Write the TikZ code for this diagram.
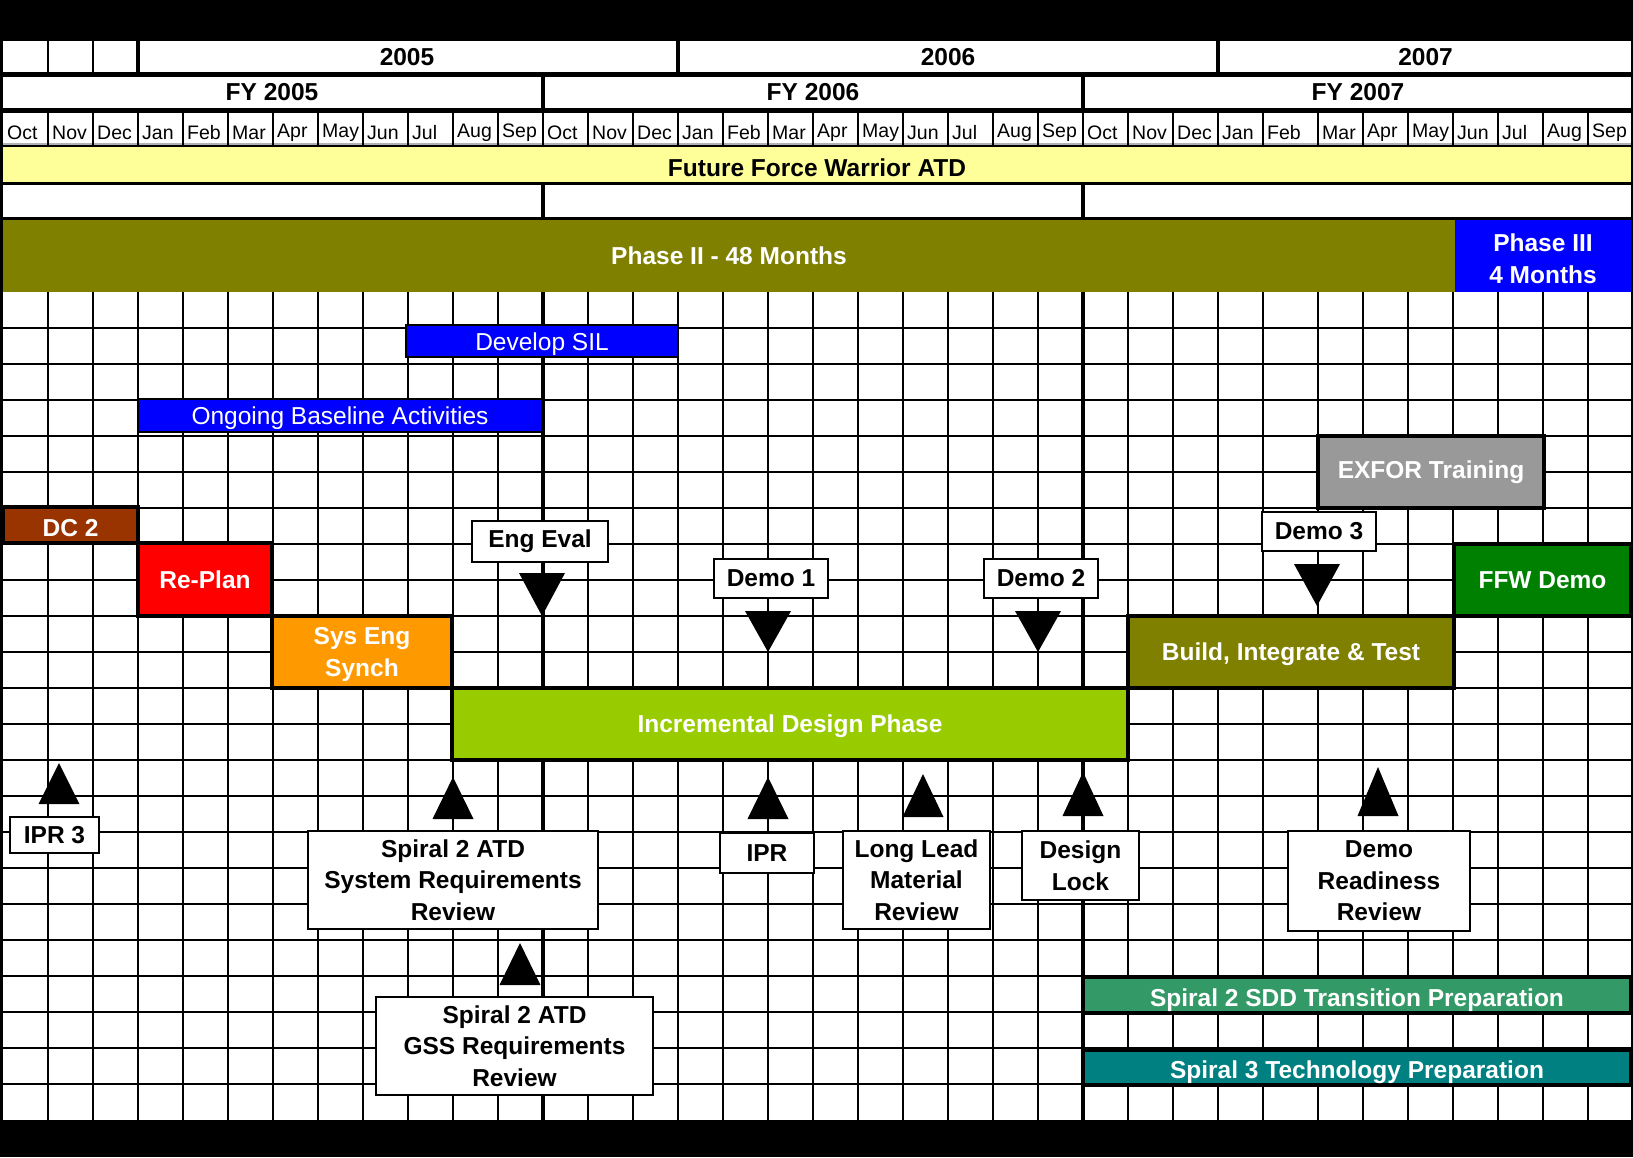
\documentclass[tikz,border=0pt]{standalone}
\usepackage{fontspec}
\setmainfont{Liberation Sans}
\usepackage{xcolor}

\definecolor{lightyellow}{HTML}{FFFF99}
\definecolor{phaseolive}{HTML}{808000}
\definecolor{dcbrown}{HTML}{993300}
\definecolor{synchorange}{HTML}{FF9900}
\definecolor{designgreen}{HTML}{99CC00}
\definecolor{ffwgreen}{HTML}{008000}
\definecolor{exforgray}{HTML}{999999}
\definecolor{sddgreen}{HTML}{339966}
\definecolor{spiralteal}{HTML}{008080}

\newcommand{\downmark}[3]{\fill ({#1-23},#2) -- ({#1+23},#2) -- (#1,#3) -- cycle;}
\newcommand{\upmark}[3]{\fill ({#1-20.5},#3) -- ({#1+20.5},#3) -- (#1,#2) -- cycle;}

\begin{document}
\begin{tikzpicture}[x=1pt,y=-1pt,
  big/.style={font=\fontsize{24.5}{31.5}\selectfont\bfseries},
  month/.style={font=\fontsize{19.5}{22}\selectfont, anchor=west, inner sep=0pt},
  task/.style={big, text=white, draw=black, line width=3.5pt, anchor=north west,
    inner sep=0pt, outer sep=0pt, align=center, text height=18pt, text depth=0pt},
  low/.style={text height=23pt, text depth=0pt},
  natural/.style={text height={}, text depth={}},
  thin task/.style={task, font=\fontsize{24.5}{31.5}\selectfont, line width=1.8pt},
  callout/.style={big, fill=white, draw=black, line width=1.8pt, anchor=north west,
    inner sep=0pt, outer sep=0pt, align=center},
  gridline/.style={line width=1.5pt},
  fyline/.style={line width=3.5pt}]
  \useasboundingbox (0,0) rectangle (1633,1157);
  \fill[black] (0,0) rectangle (1633,1157);

  \fill[white] (3,41) rectangle (1631,72);
  \fill[white] (3,77) rectangle (1631,108);
  \fill[white] (3,113) rectangle (1631,145);
  \fill[lightyellow] (3,147) rectangle (1631,182);
  \fill[white] (3,185) rectangle (1631,217);
  \fill[white] (3,292) rectangle (1631,1120);
  \draw[gray!60, line width=2pt] (3,144) -- (1631,144);

  \draw[gridline] (48,41) -- (48,72) (93,41) -- (93,72);
  \draw[fyline] (138,41) -- (138,72) (678,41) -- (678,72) (1218,41) -- (1218,72);
  \draw[fyline] (543,77) -- (543,108) (1083,77) -- (1083,108);

  \foreach \i in {1,...,35} {
    \pgfmathsetmacro\x{3+45*\i+10*(\i>28)}
    \draw[gridline] (\x,113) -- (\x,145);
    \draw[gridline] (\x,292) -- (\x,1120);
  }
  \foreach \k in {1,...,22}
    \draw[gridline] (3,292+36*\k) -- (1631,292+36*\k);
  \draw[fyline] (543,185) -- (543,1120) (1083,185) -- (1083,1120);

  \foreach \fy in {0,1,2} {
    \foreach \m [count=\k from 0] in {Oct,Nov,Dec,Jan,Feb,Mar,Apr,May,Jun,Jul,Aug,Sep} {
      \pgfmathsetmacro\x{3+45*(12*\fy+\k)+10*((12*\fy+\k)>28)}
      \node[month] at (\x+4,133) {\m};
    }
  }

  \node[big] (ytwofive) at (407,57.5) {2005};
  \node[big] (ytwosix) at (948,57.5) {2006};
  \node[big] (ytwoseven) at (1425.5,57.5) {2007};
  \node[big] (fyfive) at (272,92.5) {FY 2005};
  \node[big] (fysix) at (813,92.5) {FY 2006};
  \node[big] (fyseven) at (1358,92.5) {FY 2007};
  \node[big, low] (ffwatd) at (817,164.5) {Future Force Warrior ATD};

  \node[task, natural, draw=none, fill=phaseolive, minimum width=1452pt, minimum height=72pt] (phasetwo) at (3,220) {Phase II - 48 Months};
  \node[task, natural, draw=none, fill=blue, minimum width=176pt, minimum height=72pt] (phasethree) at (1455,220) {\rule{0pt}{23pt}Phase III\\4 Months};

  \node[thin task, fill=blue, minimum width=272pt, minimum height=32pt] (devsil) at (406,325) {Develop SIL};
  \node[thin task, fill=blue, minimum width=404pt, minimum height=33pt] (baseline) at (138,399) {Ongoing Baseline Activities};
  \node[task, natural, fill=exforgray, minimum width=226pt, minimum height=72pt] (exfor) at (1318,436) {EXFOR Training};
  \node[task, low, fill=dcbrown, minimum width=135pt, minimum height=36pt] (dctwo) at (3,507) {DC 2};
  \node[task, fill=red, minimum width=134pt, minimum height=73pt] (replan) at (138,543) {Re-Plan};
  \node[task, fill=synchorange, minimum width=180pt, minimum height=72pt, text height={}] (syseng) at (272,616) {Sys Eng\\Synch};
  \node[task, fill=designgreen, minimum width=676pt, minimum height=72pt, text height=17pt] (incdesign) at (452,688) {Incremental Design Phase};
  \node[task, fill=phaseolive, minimum width=326pt, minimum height=72pt, text height=17pt] (bit) at (1128,616) {Build, Integrate \& Test};
  \node[task, fill=ffwgreen, minimum width=177pt, minimum height=72pt, text height=17pt] (ffwdemo) at (1454,544) {FFW Demo};
  \node[task, fill=sddgreen, minimum width=548pt, minimum height=36pt, text height=22pt, text depth=0pt] (sddprep) at (1083,977) {Spiral 2 SDD Transition Preparation};
  \node[task, fill=spiralteal, minimum width=548pt, minimum height=35pt, text height=22pt, text depth=0pt] (techprep) at (1083,1050) {Spiral 3 Technology Preparation};

  \node[callout, minimum width=136pt, minimum height=41pt] (engeval) at (472,521) {Eng Eval};
  \node[callout, minimum width=114pt, minimum height=39pt] (demoone) at (714,559) {Demo 1};
  \node[callout, minimum width=114pt, minimum height=39pt] (demotwo) at (984,559) {Demo 2};
  \node[callout, minimum width=114pt, minimum height=39pt] (demothree) at (1262,512) {Demo 3};
  \node[callout, minimum width=89pt, minimum height=36pt] (iprthree) at (10,817) {IPR 3};
  \node[callout, minimum width=290pt, minimum height=98pt] (sysrr) at (308,831) {Spiral 2 ATD\\System Requirements\\Review};
  \node[callout, minimum width=277pt, minimum height=98pt] (gssrr) at (376,997) {Spiral 2 ATD\\GSS Requirements\\Review};
  \node[callout, minimum width=94pt, minimum height=40pt] (ipr) at (720,833) {IPR};
  \node[callout, minimum width=147pt, minimum height=98pt] (llmr) at (843,831) {Long Lead\\Material\\Review};
  \node[callout, minimum width=117pt, minimum height=69pt] (dlock) at (1022,831) {Design\\Lock};
  \node[callout, minimum width=182pt, minimum height=100pt] (drr) at (1288,831) {Demo\\Readiness\\Review};

  \downmark{542}{573}{616}
  \downmark{768}{611}{652}
  \downmark{1038}{611}{652}
  \downmark{1317}{564}{606}
  \upmark{59}{763}{804}
  \upmark{453}{777}{819}
  \upmark{520}{943}{985}
  \upmark{768}{777}{819}
  \upmark{923}{774}{817}
  \upmark{1083}{772}{816}
  \upmark{1378}{767}{816}
\end{tikzpicture}
\end{document}
